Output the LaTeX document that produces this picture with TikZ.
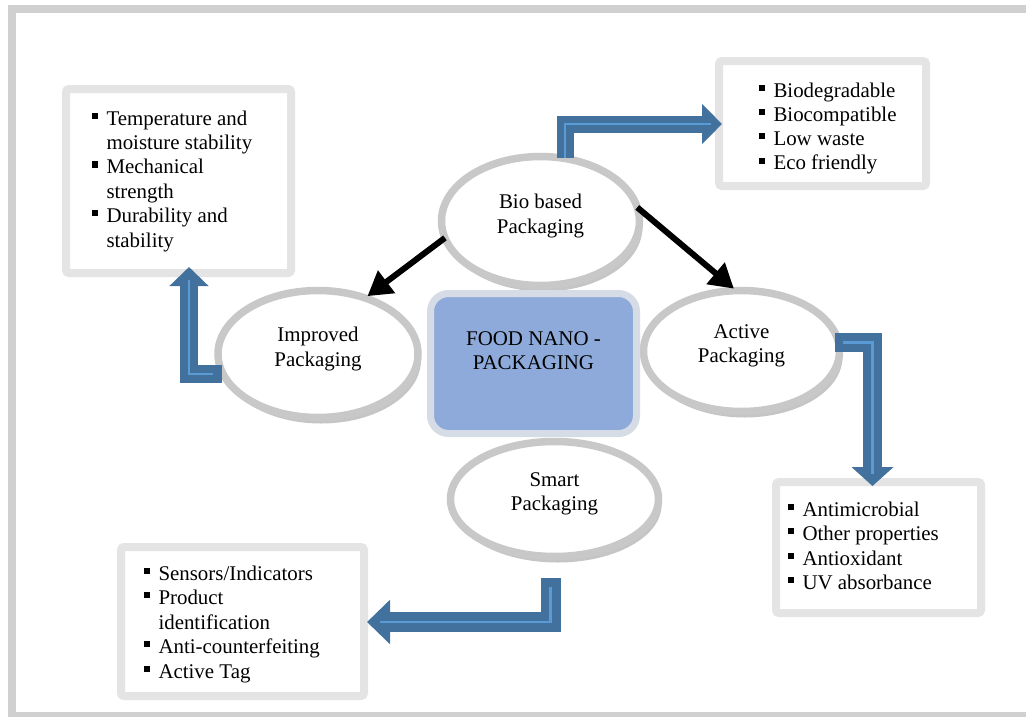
\documentclass[tikz,border=0pt]{standalone}
\usepackage{fontspec}
\setmainfont{Liberation Serif}
\usetikzlibrary{arrows.meta,shadows,calc,shapes.geometric}
\definecolor{framec}{HTML}{D0D0D0}
\definecolor{boxline}{HTML}{E4E4E4}
\definecolor{ringc}{HTML}{C8C8C8}
\definecolor{darkblue}{HTML}{41719C}
\definecolor{lightblue}{HTML}{5B9BD5}
\definecolor{centerfill}{HTML}{8EAADB}
\definecolor{centerline}{HTML}{D6DCE5}
\newcommand{\bul}{\makebox[14.5pt][l]{\rule[0.3em]{0.29em}{0.29em}}}
\tikzset{
  every node/.style={font=\fontsize{20.9}{24.6}\selectfont},
  infobox/.style={rectangle, draw=boxline, line width=8pt, fill=white, rounded corners=3pt, inner sep=0pt, outer sep=0pt},
  ring/.style={ellipse, draw=ringc, line width=7.5pt, fill=white, inner sep=0pt, outer sep=0pt, align=center, text depth=14.5pt,
    drop shadow={shadow xshift=3pt, shadow yshift=-6pt, opacity=0.3, fill=black!75}},
  hub/.style={rectangle, rounded corners=18pt, draw=centerline, line width=7pt, fill=centerfill, align=center, inner sep=0pt, outer sep=0pt, text depth=26pt},
  item/.style={anchor=base west, inner sep=0pt, outer sep=0pt},
  blackarrow/.style={line width=6pt, -{Triangle[length=24pt,width=27pt]}, shorten >=3pt},
  bshaft/.style={draw=darkblue, line width=#1, line join=miter},
  bcore/.style={draw=lightblue, line width=2.5pt, line join=miter}
}
\begin{document}
\begin{tikzpicture}[x=1pt,y=-1pt]
\useasboundingbox (0,0) rectangle (1026,716);
\fill[white] (0,0) rectangle (1026,716);
\draw[framec, line width=8pt] (12,8.5) rectangle (1034,715.5);

% info boxes
\node[infobox, minimum width=225pt, minimum height=184pt] (box1) at (178.5,181) {};
\node[infobox, minimum width=207pt, minimum height=125pt] (box2) at (822.5,123.5) {};
\node[infobox, minimum width=205pt, minimum height=131pt] (box3) at (878.5,547.5) {};
\node[infobox, minimum width=243pt, minimum height=149pt] (box4) at (242.5,621.5) {};

% box texts
\node[item] (t11) at (92,125) {\bul Temperature and};
\node[item] (t12) at (106.5,149.4) {moisture stability};
\node[item] (t13) at (92,173.8) {\bul Mechanical};
\node[item] (t14) at (106.5,198.2) {strength};
\node[item] (t15) at (92,222.6) {\bul Durability and};
\node[item] (t16) at (106.5,247) {stability};

\node[item] (t21) at (759,97) {\bul Biodegradable};
\node[item] (t22) at (759,121.3) {\bul Biocompatible};
\node[item] (t23) at (759,145.6) {\bul Low waste};
\node[item] (t24) at (759,169.9) {\bul Eco friendly};

\node[item] (t31) at (788,516) {\bul Antimicrobial};
\node[item] (t32) at (788,540.5) {\bul Other properties};
\node[item] (t33) at (788,565) {\bul Antioxidant};
\node[item] (t34) at (788,589.5) {\bul UV absorbance};

\node[item] (t41) at (144,580) {\bul Sensors/Indicators};
\node[item] (t42) at (144,604.5) {\bul Product};
\node[item] (t43) at (158.5,629) {identification};
\node[item] (t44) at (144,653.5) {\bul Anti-counterfeiting};
\node[item] (t45) at (144,678) {\bul Active Tag};

% ellipses
\node[ring, minimum width=198pt, minimum height=129pt] (bio) at (540.5,221) {Bio based\\Packaging};
\node[ring, minimum width=200pt, minimum height=127pt] (imp) at (318,354) {Improved\\Packaging};
\node[ring, minimum width=196pt, minimum height=121pt] (act) at (741.5,351) {Active\\Packaging};
\node[ring, minimum width=208pt, minimum height=115pt] (sma) at (554.5,499) {Smart\\Packaging};

% hub
\node[hub, minimum width=206pt, minimum height=140pt] (hub) at (533.5,363.5) {FOOD NANO -\\PACKAGING};

% black arrows
\draw[blackarrow] (bio.190) -- (imp.50);
\draw[blackarrow] (bio.8) -- (act.95);

% blue block arrows
\coordinate (ua) at (565,158);
\coordinate (ub) at (722,124);
\draw[bshaft=17pt, -{Triangle[length=20pt,width=39pt]}] (ua) |- (ub);
\draw[bcore] (ua) |- ($(ub)+(-11,0)$);

\coordinate (ra) at (835,342.5);
\coordinate (rb) at (872.5,486);
\draw[bshaft=19pt, -{Triangle[length=19pt,width=41pt]}] (ra) -| (rb);
\draw[bcore] ($(ra)+(8,0)$) -| ($(rb)+(0,-12)$);

\coordinate (sa) at (550.5,578);
\coordinate (sb) at (367,622);
\draw[bshaft=20pt, -{Triangle[length=23pt,width=43pt]}] (sa) |- (sb);
\draw[bcore] ($(sa)+(0,9)$) |- ($(sb)+(13,0)$);

\coordinate (la) at (222,374);
\coordinate (lb) at (189,267);
\draw[bshaft=18pt, -{Triangle[length=19pt,width=38pt]}] (la) -| (lb);
\draw[bcore] ($(la)+(-9,0)$) -| ($(lb)+(0,13)$);
\end{tikzpicture}
\end{document}
